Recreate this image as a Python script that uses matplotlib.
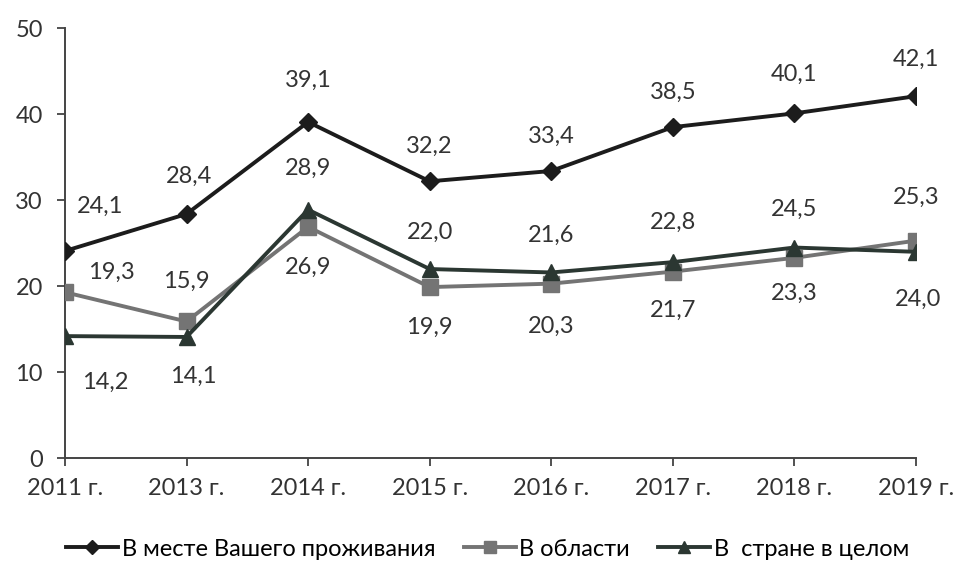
import numpy as np
import matplotlib.pyplot as plt

plt.rcParams['font.family'] = ['Lato', 'DejaVu Sans']

years = ['2011 г.', '2013 г.', '2014 г.', '2015 г.', '2016 г.', '2017 г.', '2018 г.', '2019 г.']
local = [24.1, 28.4, 39.1, 32.2, 33.4, 38.5, 40.1, 42.1]
region = [19.3, 15.9, 26.9, 19.9, 20.3, 21.7, 23.3, 25.3]
country = [14.2, 14.1, 28.9, 22.0, 21.6, 22.8, 24.5, 24.0]

names = ['В месте Вашего проживания', 'В области', 'В  стране в целом']

# label offsets in pixels (dx, dy up) for each series
off_local = [(35, 45), (2, 38), (0, 42), (0, 35), (0, 35), (0, 35), (0, 39), (0, 37)]
off_region = [(46, 20), (0, 40), (0, -40), (0, -40), (0, -43), (0, -39), (0, -35), (0, 43)]
off_country = [(40, -46), (7, -39), (0, 41), (0, 37), (0, 37), (0, 40), (0, 38), (2, -48)]


def main():
    fig = plt.figure(figsize=(9.56, 5.65), dpi=100)
    ax = fig.add_axes([0.068, 0.189, 0.890, 0.761])
    x = np.arange(len(years))

    ax.plot(x, local, color='#1c1c1c', lw=2.8, marker='D', ms=9, label=names[0], zorder=4)
    ax.plot(x, region, color='#747474', lw=2.8, marker='s', ms=11, label=names[1], zorder=3)
    ax.plot(x, country, color='#2b3732', lw=2.8, marker='^', ms=11, label=names[2], zorder=3)

    k = 72 / 100
    for vals, offs in [(local, off_local), (region, off_region), (country, off_country)]:
        for i, v in enumerate(vals):
            ax.annotate(('%.1f' % v).replace('.', ','), (x[i], v),
                        xytext=(offs[i][0] * k, offs[i][1] * k),
                        textcoords='offset points', ha='center', va='center',
                        fontsize=17, color='#333333')

    ax.set_xlim(0, len(years) - 1)
    ax.set_ylim(0, 50)
    ax.set_yticks(range(0, 51, 10))
    ax.set_xticks(x)
    ax.set_xticklabels(years)
    ax.tick_params(labelsize=17, colors='#333333', length=6, width=1.2)
    ax.tick_params(axis='x', pad=8)
    ax.tick_params(axis='y', pad=10)
    for s in ['top', 'right']:
        ax.spines[s].set_visible(False)
    for s in ['left', 'bottom']:
        ax.spines[s].set_linewidth(1.4)
        ax.spines[s].set_color('#444444')
    for lbl in ax.get_xticklabels():
        lbl.set_clip_on(False)

    fig.legend(loc='center', ncol=3, frameon=False, fontsize=17,
               bbox_to_anchor=(0.51, 0.028), handlelength=2.2, columnspacing=1.2,
               handletextpad=0.15, markerscale=0.75)
    plt.savefig('out.png')


if __name__ == '__main__':
    main()
